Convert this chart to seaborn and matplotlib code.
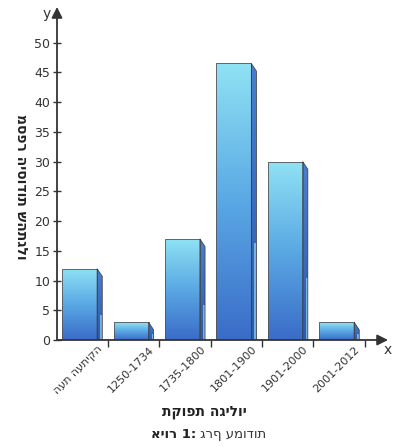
import numpy as np
import pandas as pd
import seaborn as sns
import matplotlib.pyplot as plt
from matplotlib.patches import Polygon
from matplotlib.colors import LinearSegmentedColormap
import matplotlib.transforms as mtransforms


periodos = ["העת העתיקה", "1250-1734", "1735-1800", "1801-1900", "1901-2000", "2001-2012"]
elementos = [12, 3, 17, 46.5, 30, 3]
y_ticks = [0, 5, 10, 15, 20, 25, 30, 35, 40, 45, 50]

df = pd.DataFrame({"periodo": periodos, "elementos": elementos})

sns.set_style("white")
plt.rcParams["font.family"] = ["DejaVu Sans"]

fig = plt.figure(figsize=(3.97, 4.47), dpi=100)
ax = fig.add_axes([0.1436, 0.2394, 0.8338, 0.745])

sns.barplot(data=df, x="periodo", y="elementos", color="#5aa0e0", width=0.68,
            ax=ax, edgecolor="#555555", linewidth=0.6)

ax.set_xlim(-0.44, 6.0)
ax.set_ylim(0, 56)

# degradado vertical en cada barra + cara lateral 3D
cmap = LinearSegmentedColormap.from_list("barra", ["#3a6cc8", "#5aa8e4", "#90e2f4"])
cmap_lado = LinearSegmentedColormap.from_list("lado", ["#2f58b0", "#4a7fd0"])
grad = np.linspace(0, 1, 256).reshape(-1, 1)
for bar in ax.patches:
    x0 = bar.get_x()
    w = bar.get_width()
    h = bar.get_height()
    bar.set_facecolor("none")
    img = ax.imshow(grad, cmap=cmap, origin="lower", aspect="auto",
                    extent=[x0, x0 + w, 0, h], zorder=2)
    img.set_clip_path(bar)
    dx, dy = 0.1, 1.3
    lado = Polygon([(x0 + w, h), (x0 + w + dx, h - dy), (x0 + w + dx, 0), (x0 + w, 0)],
                   closed=True, facecolor="none", edgecolor="#333333", lw=0.5, zorder=3)
    ax.add_patch(lado)
    img2 = ax.imshow(grad, cmap=cmap_lado, origin="lower", aspect="auto",
                     extent=[x0 + w, x0 + w + dx, 0, h], zorder=2)
    img2.set_clip_path(lado)
    borde = Polygon([(x0 + w + dx * 0.6, 0), (x0 + w + dx, 0), (x0 + w + dx, h * 0.35), (x0 + w + dx * 0.6, h * 0.35)],
                    closed=True, facecolor="#8fd8ec", edgecolor="none", alpha=0.7, zorder=2.5)
    ax.add_patch(borde)
    bar.set_zorder(3)

for s in ax.spines.values():
    s.set_visible(False)

# ejes con flecha
ax.annotate("", xy=(1.0, 0), xytext=(0, 0), xycoords="axes fraction",
            arrowprops=dict(arrowstyle="-|>", color="#333333", lw=1.3, mutation_scale=16,
                            shrinkA=0, shrinkB=0), zorder=5)
ax.annotate("", xy=(0, 1.0), xytext=(0, 0), xycoords="axes fraction",
            arrowprops=dict(arrowstyle="-|>", color="#333333", lw=1.3, mutation_scale=16,
                            shrinkA=0, shrinkB=0), zorder=5)
ax.text(-0.02, 1.0, "y", transform=ax.transAxes, ha="right", va="top", fontsize=10, color="#333333")
ax.text(1.0, -0.01, "x", transform=ax.transAxes, ha="center", va="top", fontsize=10, color="#333333")

ax.set_yticks(y_ticks)
ax.tick_params(axis="y", direction="inout", length=6, width=1, color="#333333",
               labelsize=9, labelcolor="#333333", pad=2, left=True)

ax.set_xticks(range(len(periodos)))
ax.set_xticklabels(periodos, rotation=45, ha="right", fontsize=8, color="#333333")
ax.tick_params(axis="x", length=0, pad=3)
ax.set_xticks(np.arange(len(periodos)) + 0.55, minor=True)
ax.tick_params(axis="x", which="minor", direction="out", length=5, width=1, color="#333333", bottom=True)

desplazar = mtransforms.ScaledTranslation(25 / 100, 0, fig.dpi_scale_trans)
for lab in ax.get_xticklabels():
    lab.set_transform(lab.get_transform() + desplazar)

ax.set_xlabel("")
ax.set_ylabel("מספר היסודות שהתגלו", fontsize=10, fontweight="bold", color="#222222",
              rotation=270, va="center")
ax.yaxis.set_label_coords(-0.11, 0.46)

fig.text(0.516, 0.078, "תקופת הגילוי", ha="center", va="center", fontsize=10,
         fontweight="bold", color="#222222")
fig.text(0.495, 0.029, "איור 1:", ha="right", va="center", fontsize=9.5,
         fontweight="bold", color="#222222")
fig.text(0.505, 0.029, "גרף עמודות", ha="left", va="center", fontsize=9.5, color="#333333")

plt.savefig("out.png", dpi=100)
